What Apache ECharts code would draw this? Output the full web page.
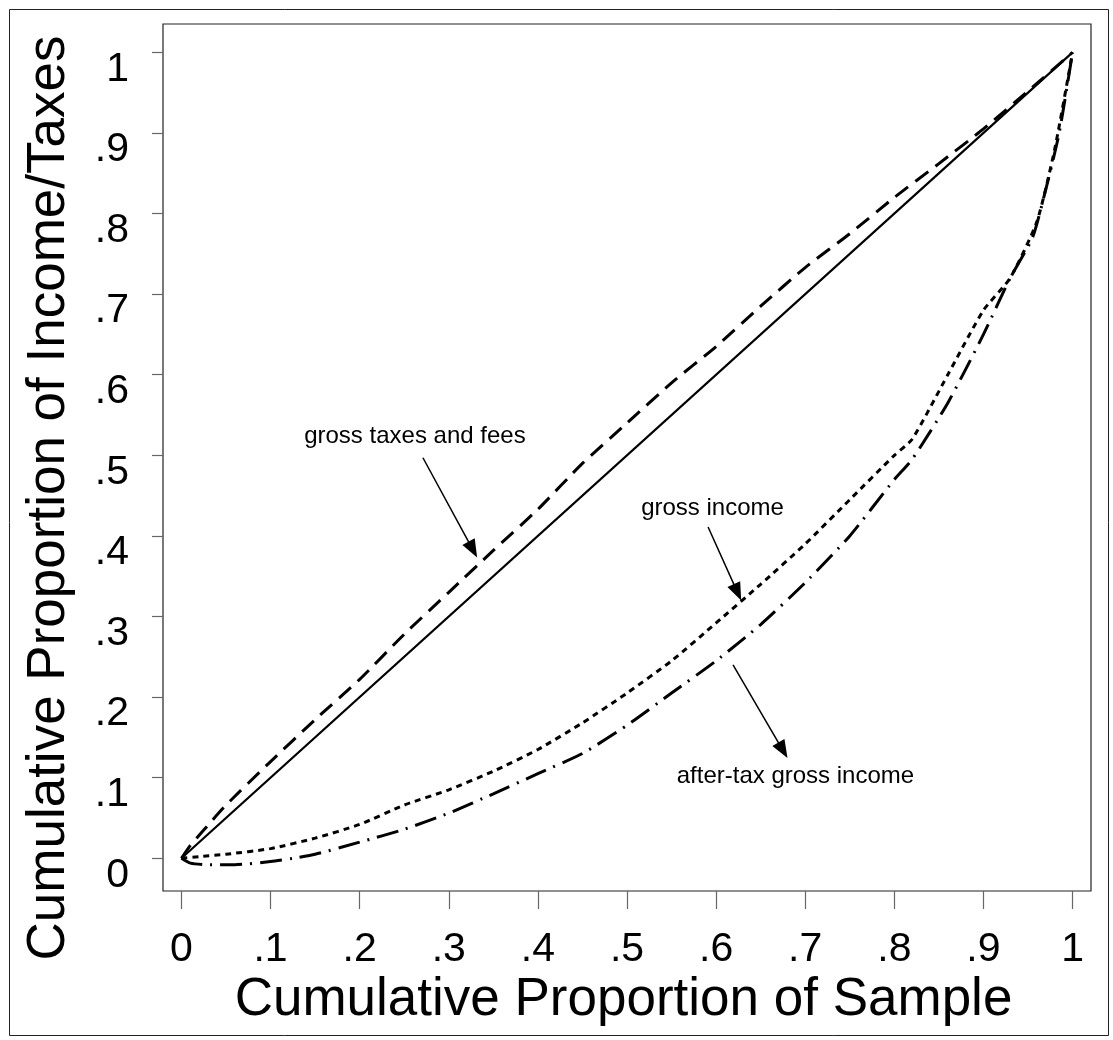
<!DOCTYPE html>
<html>
<head>
<meta charset="utf-8">
<script src="https://cdn.jsdelivr.net/npm/echarts@6/dist/echarts.min.js"></script>
<style>
html,body{margin:0;padding:0;background:#fff;}
#chart{width:1113px;height:1040px;}
</style>
</head>
<body>
<div id="chart"></div>
<script>
// ---------- data ----------
const tickValues = [0, 0.1, 0.2, 0.3, 0.4, 0.5, 0.6, 0.7, 0.8, 0.9, 1];

const equalityX = [0, 1];
const equalityY = [0, 1];

const taxesX = [0, 0.01, 0.025, 0.05, 0.1, 0.15, 0.2, 0.25, 0.3, 0.35, 0.4, 0.45, 0.5, 0.55, 0.6, 0.65, 0.7, 0.75, 0.8, 0.85, 0.9, 0.95, 1];
const taxesY = [0, 0.016, 0.035, 0.066, 0.12, 0.172, 0.222, 0.278, 0.33, 0.382, 0.433, 0.49, 0.54, 0.59, 0.635, 0.685, 0.733, 0.775, 0.82, 0.862, 0.905, 0.952, 1];

const grossX = [0, 0.02, 0.05, 0.1, 0.15, 0.2, 0.25, 0.3, 0.35, 0.4, 0.45, 0.5, 0.55, 0.6, 0.65, 0.7, 0.75, 0.8, 0.82, 0.86, 0.9, 0.93, 0.96, 0.98, 1];
const grossY = [0, 0.002, 0.005, 0.012, 0.025, 0.042, 0.066, 0.085, 0.108, 0.135, 0.168, 0.205, 0.245, 0.292, 0.34, 0.39, 0.445, 0.5, 0.52, 0.6, 0.68, 0.72, 0.79, 0.88, 1];

const afterTaxX = [0, 0.01, 0.03, 0.06, 0.1, 0.125, 0.15, 0.2, 0.25, 0.3, 0.35, 0.4, 0.45, 0.5, 0.55, 0.6, 0.65, 0.7, 0.75, 0.8, 0.82, 0.86, 0.9, 0.93, 0.955, 0.97, 0.985, 1];
const afterTaxY = [0, -0.006, -0.008, -0.008, -0.004, 0, 0.005, 0.02, 0.036, 0.056, 0.08, 0.105, 0.13, 0.165, 0.205, 0.245, 0.29, 0.342, 0.4, 0.47, 0.495, 0.565, 0.65, 0.72, 0.77, 0.83, 0.9, 1];

const annotationTexts = ['gross taxes and fees', 'gross income', 'after-tax gross income'];
const annotationTextX = [0.262, 0.596, 0.689];
const annotationTextY = [0.524, 0.434, 0.102];
const arrowFromX = [0.271, 0.591, 0.619];
const arrowFromY = [0.497, 0.411, 0.240];
const arrowToX = [0.327, 0.624, 0.675];
const arrowToY = [0.383, 0.330, 0.134];

const xTitle = 'Cumulative Proportion of Sample';
const yTitle = 'Cumulative Proportion of Income/Taxes';

// ---------- helpers ----------
const pairs = (xs, ys) => xs.map((x, i) => [x, ys[i]]);
const fmt = v => {
  const r = Math.round(v * 10) / 10;
  if (r === 0) return '0';
  if (r === 1) return '1';
  return '.' + Math.round(r * 10);
};
const FONT = '"Liberation Sans", Arial, Helvetica, sans-serif';

const chart = echarts.init(document.getElementById('chart'), null, {renderer: 'canvas'});

const option = {
  animation: false,
  backgroundColor: '#fff',
  textStyle: {fontFamily: FONT},
  grid: {left: 163, right: 22, top: 24, bottom: 149, show: true, borderColor: '#222', borderWidth: 1.2, backgroundColor: '#fff'},
  xAxis: {
    type: 'value',
    min: -0.0207, max: 1.0207,
    axisLine: {show: false, onZero: false},
    splitLine: {show: false},
    axisTick: {show: true, length: 18, lineStyle: {color: '#666', width: 1.2}, customValues: tickValues},
    axisLabel: {show: true, customValues: tickValues, formatter: fmt, fontSize: 41, color: '#000', margin: 38, fontFamily: FONT}
  },
  yAxis: {
    type: 'value',
    min: -0.0406, max: 1.0352,
    axisLine: {show: false, onZero: false},
    splitLine: {show: false},
    axisTick: {show: true, length: 11, lineStyle: {color: '#666', width: 1.2}, customValues: tickValues},
    axisLabel: {show: true, customValues: tickValues, formatter: fmt, fontSize: 41, color: '#000', margin: 34, fontFamily: FONT, verticalAlign: 'top', lineHeight: 34}
  },
  series: [
    {
      name: 'equality', type: 'line', data: pairs(equalityX, equalityY), showSymbol: false, symbol: 'none',
      lineStyle: {color: '#000', width: 2.2, type: 'solid'}, silent: true
    },
    {
      name: 'gross taxes and fees', type: 'line', data: pairs(taxesX, taxesY), showSymbol: false, symbol: 'none', smooth: 0.2,
      lineStyle: {color: '#000', width: 3, type: [16, 9]}, silent: true
    },
    {
      name: 'gross income', type: 'line', data: pairs(grossX, grossY), showSymbol: false, symbol: 'none', smooth: 0.2,
      lineStyle: {color: '#000', width: 3, type: [6, 5]}, silent: true
    },
    {
      name: 'after-tax gross income', type: 'line', data: pairs(afterTaxX, afterTaxY), showSymbol: false, symbol: 'none', smooth: 0.2,
      lineStyle: {color: '#000', width: 3, type: [22, 8, 2, 8]}, silent: true
    },
    {
      name: 'annotations', type: 'line', data: [], silent: true,
      markLine: {
        silent: true,
        symbol: ['none', 'triangle'],
        symbolSize: [14, 18],
        lineStyle: {color: '#000', width: 1.5, type: 'solid'},
        label: {show: false},
        data: arrowFromX.map((x, i) => [{coord: [x, arrowFromY[i]]}, {coord: [arrowToX[i], arrowToY[i]]}])
      },
      markPoint: {
        silent: true,
        symbol: 'circle', symbolSize: 0,
        label: {show: true, position: 'inside', formatter: '{b}', color: '#000', fontSize: 24, fontFamily: FONT},
        data: annotationTexts.map((t, i) => ({name: t, coord: [annotationTextX[i], annotationTextY[i]]}))
      }
    }
  ],
  graphic: [
    {type: 'rect', left: 7, top: 7, shape: {width: 1099, height: 1026}, style: {fill: 'none', stroke: '#222', lineWidth: 1}, silent: true, z: -1},
    {type: 'text', x: 623.5, y: 1000, style: {text: xTitle, font: '53px ' + FONT, fill: '#000', textAlign: 'center', textVerticalAlign: 'middle'}, silent: true},
    {type: 'text', x: 49, y: 498, rotation: Math.PI / 2, style: {text: yTitle, font: '53px ' + FONT, fill: '#000', textAlign: 'center', textVerticalAlign: 'middle'}, silent: true}
  ]
};
chart.setOption(option);
</script>
</body>
</html>
